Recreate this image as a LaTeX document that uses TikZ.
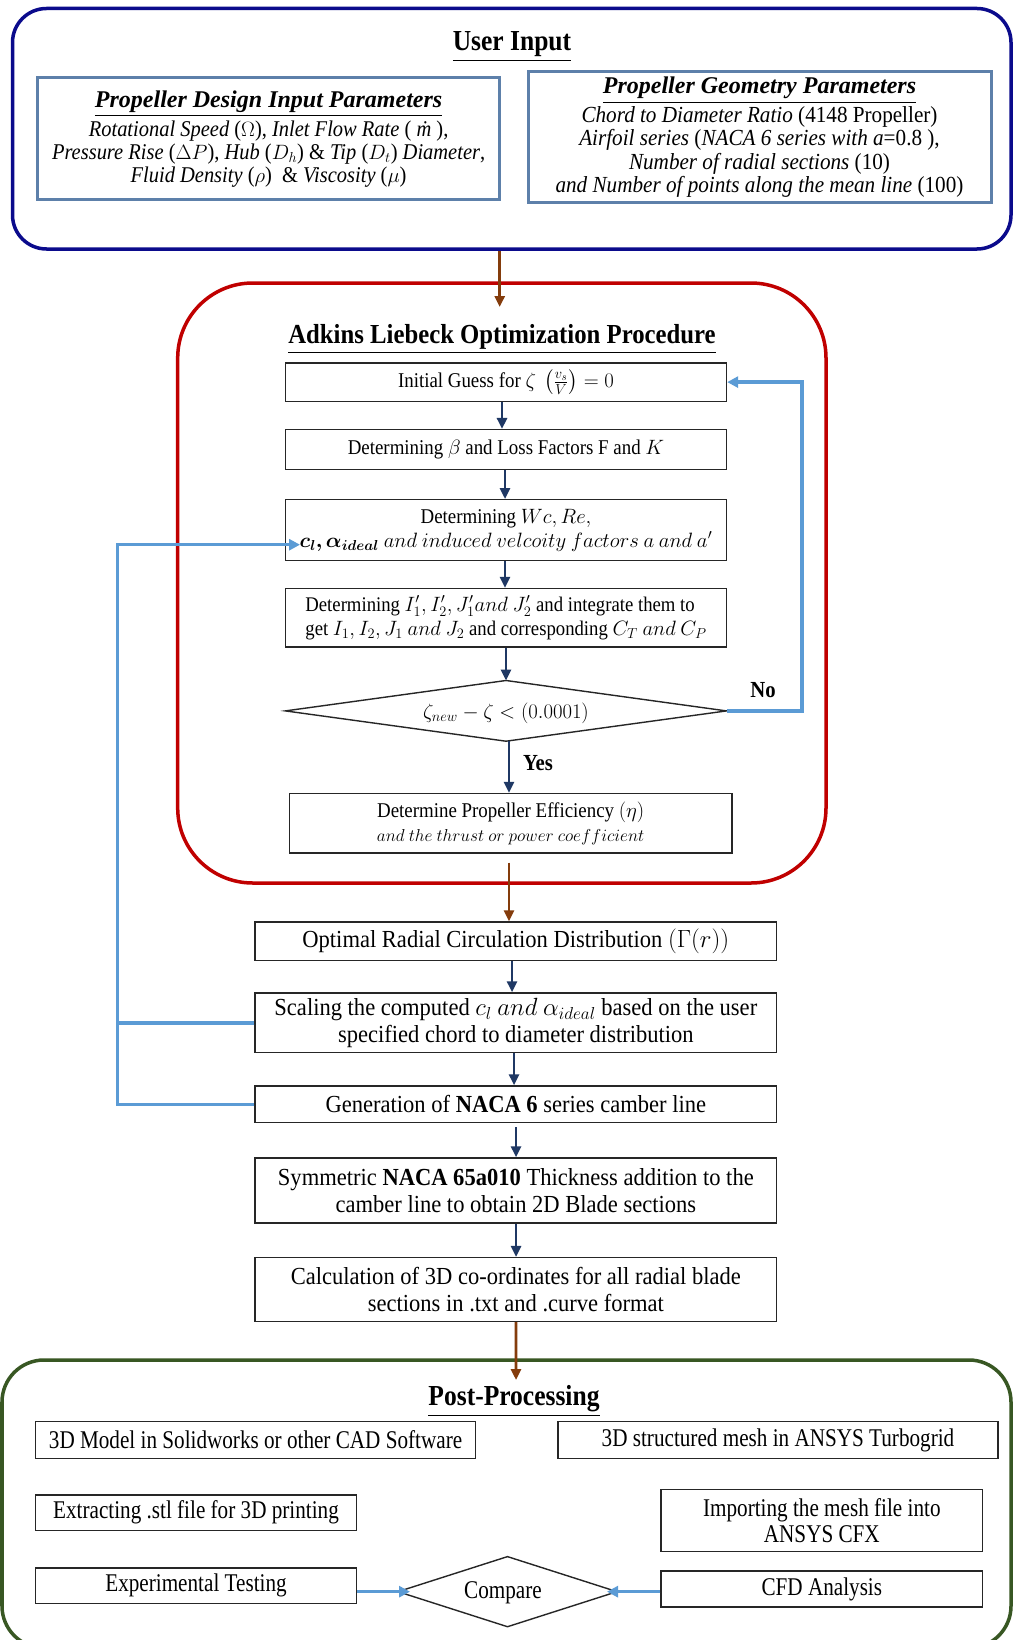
\documentclass[tikz,border=0pt]{standalone}
\usepackage{amsmath}
\usepackage{bm}
\usepackage{fontspec}
\setmainfont{Liberation Serif}
\newfontfamily\uiLf[FakeStretch=0.91]{Liberation Serif}
\newfontfamily\uiRf[FakeStretch=0.92]{Liberation Serif}
\newfontfamily\adkf[FakeStretch=0.9]{Liberation Serif}
\newfontfamily\lowf[FakeStretch=0.92]{Liberation Serif}
\newfontfamily\ppff[FakeStretch=0.83]{Liberation Serif}
\newfontfamily\titlef[FakeStretch=0.88]{Liberation Serif}
\newfontfamily\adtitlef[FakeStretch=0.9]{Liberation Serif}
\usetikzlibrary{arrows.meta,calc}
\definecolor{uiBlue}{HTML}{0B0B8C}
\definecolor{steelB}{HTML}{5D80AA}
\definecolor{redB}{HTML}{C00000}
\definecolor{greenB}{HTML}{385723}
\definecolor{arrNavy}{HTML}{1F3864}
\definecolor{arrBrown}{HTML}{843C0C}
\definecolor{loopBlue}{HTML}{5B9BD5}
\newcommand\fsAd{\adkf\fontsize{21}{24}\selectfont}
\newcommand\fsLo{\lowf\fontsize{24.5}{27}\selectfont}
\newcommand\fsUIL{\uiLf\fontsize{22.5}{23.2}\selectfont}
\newcommand\fsUIR{\uiRf\fontsize{23}{23.6}\selectfont}
\newcommand\fsUIT{\rmfamily\fontsize{24}{23.2}\selectfont\bfseries\itshape}
\newcommand\fsPP{\ppff\fontsize{25.5}{25.5}\selectfont}
\tikzset{
  box/.style={draw=black!85, line width=1.4pt, fill=white, inner sep=0pt, align=center},
  uibox/.style={draw=steelB, line width=3pt, fill=white, inner sep=0pt, align=center},
  outer/.style={rounded corners=#1, line width=3.5pt, inner sep=0pt},
  navyarr/.style={draw=arrNavy, line width=2.6pt, -{Triangle[length=11pt,width=10pt]}},
  brownarr/.style={draw=arrBrown, line width=2.8pt, -{Triangle[length=11pt,width=10pt]}},
  bluearr/.style={draw=loopBlue, line width=3.4pt, -{Triangle[length=11pt,width=11pt]}},
  blueline/.style={draw=loopBlue, line width=3.4pt},
  ttl/.style={inner sep=0pt},
}
\begin{document}
\begin{tikzpicture}[x=1pt,y=-1pt]
\path[use as bounding box, fill=white] (0,0) rectangle (1013,1640);

% ---------- User input ----------
\node[outer=34pt, draw=uiBlue, minimum width=998.5pt, minimum height=240.5pt] (ui) at (511.75,128.75) {};
\node[ttl, font=\titlef\bfseries\fontsize{29}{30}\selectfont] (uititle) at (512,47) {\underline{User Input}};
\node[uibox, font=\fsUIL, minimum width=462pt, minimum height=122pt] (uil) at (268.6,139)
 {{\fsUIT\underline{Propeller Design Input Parameters}}\\[2pt]
  {\itshape Rotational Speed} ($\Omega$), {\itshape Inlet Flow Rate} ( {\itshape\.m} ),\\
  {\itshape Pressure Rise} ($\Delta P$), {\itshape Hub} ($D_h$) \& {\itshape Tip} ($D_t$) {\itshape Diameter},\\
  {\itshape Fluid Density} ($\rho$) \ \& {\itshape Viscosity} ($\mu$)};
\node[uibox, font=\fsUIR, minimum width=463pt, minimum height=131pt] (uir) at (759.5,137.5)
 {{\fsUIT\underline{Propeller Geometry Parameters}}\\[1pt]
  {\itshape Chord to Diameter Ratio} (4148 Propeller)\\
  {\itshape Airfoil series} ({\itshape NACA 6 series with a}=0.8 ),\\
  {\itshape Number of radial sections} (10)\\
  {\itshape and Number of points along the mean line} (100)};

% ---------- Adkins Liebeck ----------
\node[outer=75pt, draw=redB, minimum width=648.3pt, minimum height=600pt] (alo) at (501.85,583) {};
\coordinate (a1end) at (499.7,307);
\draw[brownarr] (ui.south -| a1end) -- (a1end);
\node[ttl, font=\adtitlef\bfseries\fontsize{27.5}{30}\selectfont] (alotitle) at (502,339) {\underline{Adkins Liebeck Optimization Procedure}};

\node[box, font=\fsAd, minimum width=441pt, minimum height=38.6pt] (b1) at (506,382.1)
 {Initial Guess for $\zeta\ \left(\frac{v_s}{V}\right) = 0$};
\node[box, font=\fsAd, minimum width=441pt, minimum height=39.7pt] (b2) at (506,449.5)
 {Determining $\beta$ and Loss Factors F and $K$};
\node[box, font=\fsAd, minimum width=441pt, minimum height=60.6pt] (b3) at (506,530)
 {Determining $Wc, Re,$\\ $\bm{c_l, \alpha_{ideal}}\ and\ induced\ velcoity\ factors\ a\ and\ a'$};
\node[box, font=\adkf\fontsize{20.8}{24}\selectfont, minimum width=441pt, minimum height=58.4pt, align=left] (b4) at (506,617.8)
 {Determining $I_1', I_2', J_1' and\ J_2'$ and integrate them to\\
  get $I_1, I_2, J_1\ and\ J_2$ and corresponding $C_T\ and\ C_P$};
\coordinate (dN) at (506,680.5);
\coordinate (dS) at (506,741.2);
\coordinate (dW) at (285.4,710.9);
\coordinate (dE) at (726.5,710.9);
\draw[draw=black!85, line width=1.4pt, fill=white] (dW) -- (dN) -- (dE) -- (dS) -- cycle;
\node[inner sep=0pt, font=\fontsize{22}{24}\selectfont] (dia) at (506,713) {$\zeta_{new} - \zeta < (0.0001)$};
\node[box, font=\fsAd, minimum width=442.2pt, minimum height=59.5pt] (b5) at (510.7,823.25)
 {Determine Propeller Efficiency $(\eta)$\\ {\fontsize{18.3}{24}\selectfont$and\ the\ thrust\ or\ power\ coefficient$}};

\draw[navyarr] ([xshift=-4pt]b1.south) -- ([xshift=-4pt]b2.north);
\draw[navyarr] ([xshift=-1pt]b2.south) -- ([xshift=-1pt]b3.north);
\draw[navyarr] ([xshift=-1pt]b3.south) -- ([xshift=-1pt]b4.north);
\draw[navyarr] (b4.south) -- (dN);
\draw[navyarr] ([xshift=3pt]dS) -- ([xshift=-1.7pt]b5.north);
\node[inner sep=0pt, font=\adtitlef\bfseries\fontsize{23}{24}\selectfont] (yes) at (538,763) {Yes};
\node[inner sep=0pt, font=\adtitlef\bfseries\fontsize{23}{24}\selectfont] (no) at (763,690) {No};
\draw[bluearr] (dE) -- ++(75.3,0) |- (b1.east);

% ---------- Lower chain ----------
\node[box, font=\fsLo, minimum width=521.7pt, minimum height=38.7pt] (b6) at (515.85,941.35)
 {Optimal Radial Circulation Distribution $(\Gamma(r))$};
\node[box, font=\fsLo, minimum width=521.7pt, minimum height=59.7pt] (b7) at (515.85,1022.85)
 {Scaling the computed $c_l\ and\ \alpha_{ideal}$ based on the user\\ specified chord to diameter distribution};
\node[box, font=\fsLo, minimum width=521.7pt, minimum height=36.7pt] (b8) at (515.85,1104.35)
 {Generation of \textbf{NACA 6} series camber line};
\node[box, font=\fsLo, minimum width=521.7pt, minimum height=65pt] (b9) at (515.85,1190.5)
 {Symmetric \textbf{NACA 65a010} Thickness addition to the\\ camber line to obtain 2D Blade sections};
\node[box, font=\fsLo, minimum width=521.7pt, minimum height=63.8pt] (b10) at (515.85,1289.5)
 {Calculation of 3D co-ordinates for all radial blade\\ sections in .txt and .curve format};

\draw[brownarr] ([xshift=-1.7pt,yshift=-9pt]b5.south) -- ([xshift=-1.7pt]b5.south |- b6.north);
\draw[navyarr] ([xshift=-3.8pt]b6.south) -- ([xshift=-3.8pt]b7.north);
\draw[navyarr] ([xshift=-1.8pt]b7.south) -- ([xshift=-1.8pt]b8.north);
\draw[navyarr] ([xshift=0.2pt,yshift=-4pt]b8.south) -- ([xshift=0.2pt]b9.north);
\draw[navyarr] ([xshift=0.2pt]b9.south) -- ([xshift=0.2pt]b10.north);

\coordinate (cin) at (300,544.7);
\draw[bluearr] (b8.west) -- ++(-137,0) |- (cin);
\draw[blueline] (b7.west) -- ++(-137,0);

% ---------- Post-processing ----------
\node[outer=42pt, draw=greenB, minimum width=1009pt, minimum height=288pt] (pp) at (506.5,1504) {};
\coordinate (a3end) at (516,1380);
\draw[brownarr] ([xshift=0.2pt]b10.south) -- (a3end);
\node[ttl, font=\titlef\bfseries\fontsize{29}{30}\selectfont] (pptitle) at (514,1401) {\underline{Post-Processing}};

\node[box, font=\fsPP, minimum width=440.2pt, minimum height=36.6pt] (pp1) at (255.6,1440)
 {3D Model in Solidworks or other CAD Software};
\node[box, font=\fsPP, minimum width=440pt, minimum height=36.6pt] (pp2) at (778,1440)
 {3D structured mesh in ANSYS Turbogrid};
\node[box, font=\fsPP, minimum width=321pt, minimum height=35.5pt] (pp3) at (196,1512.75)
 {Extracting .stl file for 3D printing};
\node[box, font=\fsPP, minimum width=321.7pt, minimum height=61.7pt] (pp4) at (821.85,1520.55)
 {Importing the mesh file into\\ ANSYS CFX};
\node[box, font=\fsPP, minimum width=321pt, minimum height=35.6pt] (pp5) at (196,1585.8)
 {Experimental Testing};
\node[box, font=\fsPP, minimum width=321.7pt, minimum height=36pt] (pp6) at (821.85,1589)
 {CFD Analysis};
\coordinate (cN) at (507.5,1556.6);
\coordinate (cS) at (507.5,1626.7);
\coordinate (cW) at (398,1591.65);
\coordinate (cE) at (617,1591.65);
\draw[draw=black!85, line width=1.4pt, fill=white] (cW) -- (cN) -- (cE) -- (cS) -- cycle;
\node[inner sep=0pt, font=\fsPP] (cmp) at (503,1593) {Compare};
\draw[bluearr] (pp5.east |- cW) -- ([xshift=12pt]cW);
\draw[bluearr] (pp6.west |- cE) -- ([xshift=-10pt]cE);
\end{tikzpicture}
\end{document}
